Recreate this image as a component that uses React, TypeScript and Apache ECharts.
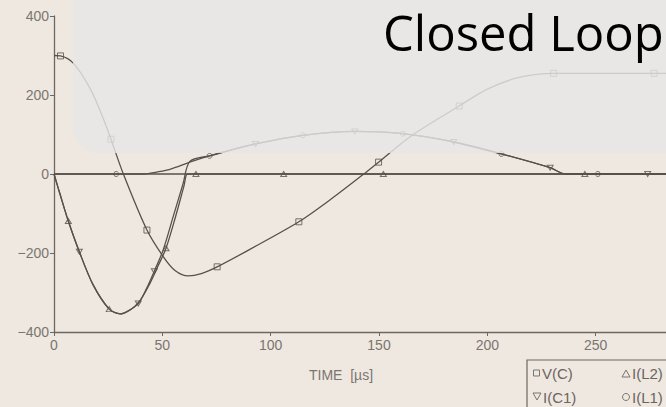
import React, { useEffect, useRef } from "react";
import * as echarts from "echarts";

// ---- data ----
const xTickLabels = ["0", "50", "100", "150", "200", "250"];
const yTickLabels = ["−400", "−200", "0", "200", "400"];

const vcT = [0, 3, 9, 17, 23, 26.3, 32, 42.9, 50.4, 56, 62, 68, 75.3, 90, 113, 128.5, 143, 149.8, 165, 187, 200, 215, 230.6, 250, 277, 300];
const vcV = [300, 299, 280, 213, 137, 88, 0, -142, -209, -245, -258, -252, -235, -192, -121, -61, 0, 30, 97, 172, 215, 245, 255, 255, 255, 255];
const vcMarkT = [3, 26.3, 42.9, 75.3, 113, 149.8, 187, 230.6, 277];
const vcMarkV = [299, 88, -142, -235, -121, 30, 172, 255, 255];

const ic1T = [0, 3, 6.6, 11.7, 18, 25.5, 30.6, 34, 38.9, 42.8, 46.3, 50.4, 55, 59.6, 62.7, 71.8, 93, 114.8, 138.8, 161, 184.5, 206.5, 229, 236, 250, 300];
const ic1V = [0, -55, -119, -197, -280, -342, -354, -347, -328, -289, -246, -192, -108, -24, 32, 46, 76, 98, 108, 102, 81, 51, 16, 0, 0, 0];
const ic1MarkT = [11.7, 38.9, 46.3, 93, 138.8, 184.5, 229, 274];
const ic1MarkV = [-197, -328, -246, 76, 108, 81, 16, 0];

const il2T = [0, 3, 6.6, 11.7, 18, 25.5, 30.6, 35, 39.5, 44, 48, 51.7, 56, 60, 61.5, 64, 100, 300];
const il2V = [0, -55, -119, -197, -280, -342, -354, -345, -322, -280, -233, -188, -110, -30, 0, 0, 0, 0];
const il2MarkT = [6.6, 25.5, 51.7, 65.5, 106, 152, 245];
const il2MarkV = [-119, -342, -188, 0, 0, 0, 0];

const il1T = [0, 41.7, 47.4, 53.5, 62.7, 71.8, 93, 114.8, 138.8, 161, 184.5, 206.5, 229, 236, 250, 300];
const il1V = [0, 0, 5, 12, 30, 46, 76, 98, 108, 102, 81, 51, 16, 0, 0, 0];
const il1MarkT = [28.7, 71.8, 114.8, 161, 206.5, 251];
const il1MarkV = [0, 46, 98, 102, 51, 0];

const legendNames = ["V(C)", "I(L2)", "I(C1)", "I(L1)"];
const titleText = "Closed Loop";
const axisName = "TIME  [µs]";

const zip = (a: number[], b: number[]) => a.map((t, i) => [t, b[i]]);

const lineCol = "#57514b";
const axisCol = "#6e6760";
const labelCol = "#7b7570";
const narrow = '"Liberation Sans Narrow", "Liberation Sans", Arial, sans-serif';
const sans = '"Liberation Sans", Arial, sans-serif';

const downTri = "path://M0,0L10,0L5,9Z";

export default function App() {
  const ref = useRef<HTMLDivElement>(null);
  useEffect(() => {
    if (!ref.current) return;
    const chart = echarts.init(ref.current, undefined, { renderer: "svg" });

    const lineSeries = (name: string, t: number[], v: number[], extra: any = {}) => ({
      type: "line",
      name,
      data: zip(t, v),
      showSymbol: false,
      smooth: 0.3,
      lineStyle: { color: lineCol, width: 1.3 },
      z: 2,
      silent: true,
      ...extra,
    });
    const markSeries = (name: string, t: number[], v: number[], symbol: string, size: any) => ({
      type: "scatter",
      name: name + "_m",
      data: zip(t, v),
      symbol,
      symbolSize: size,
      itemStyle: { color: "rgba(0,0,0,0)", borderColor: lineCol, borderWidth: 1 },
      z: 3,
      silent: true,
    });

    chart.setOption({
      animation: false,
      backgroundColor: "#eee8e1",
      grid: { left: 54, top: 16, width: 650, height: 316, outerBoundsMode: "none", containLabel: false },
      xAxis: {
        type: "value",
        min: 0,
        max: 300,
        interval: 50,
        axisLine: { show: true, onZero: false, lineStyle: { color: axisCol, width: 1.3 } },
        axisTick: { show: true, length: 4, lineStyle: { color: axisCol } },
        splitLine: { show: false },
        axisLabel: {
          color: labelCol,
          fontFamily: narrow,
          fontSize: 14,
          margin: 6,
          showMaxLabel: false,
          formatter: (v: number) => xTickLabels[Math.round(v / 50)] ?? "",
        },
      },
      yAxis: {
        type: "value",
        min: -400,
        max: 400,
        interval: 200,
        axisLine: { show: true, lineStyle: { color: axisCol, width: 1.3 } },
        axisTick: { show: true, length: 4, lineStyle: { color: axisCol } },
        splitLine: { show: false },
        axisLabel: {
          color: labelCol,
          fontFamily: narrow,
          fontSize: 14,
          margin: 5,
          formatter: (v: number) => yTickLabels[Math.round((v + 400) / 200)] ?? String(v),
        },
      },
      series: [
        lineSeries(legendNames[3], il1T, il1V, {
          markLine: {
            silent: true,
            symbol: "none",
            label: { show: false },
            lineStyle: { color: lineCol, width: 1.6, type: "solid" },
            data: [{ yAxis: 0 }],
          },
        }),
        lineSeries(legendNames[0], vcT, vcV),
        lineSeries(legendNames[1], il2T, il2V),
        lineSeries(legendNames[2], ic1T, ic1V),
        markSeries(legendNames[0], vcMarkT, vcMarkV, "rect", 6),
        markSeries(legendNames[1], il2MarkT, il2MarkV, "triangle", [6, 5]),
        markSeries(legendNames[2], ic1MarkT, ic1MarkV, downTri, [6, 5]),
        markSeries(legendNames[3], il1MarkT, il1MarkV, "circle", 5),
      ],
      graphic: [
        {
          type: "rect",
          z: 100,
          silent: true,
          shape: { x: 73, y: -40, width: 700, height: 193, r: 26 },
          style: { fill: "rgba(231,230,229,0.82)" },
        },
        {
          type: "text",
          z: 101,
          silent: true,
          x: 383,
          y: 32,
          style: {
            text: titleText,
            fill: "#000000",
            font: '49px "Open Sans", "Noto Sans", sans-serif',
            verticalAlign: "middle",
            align: "left",
          },
        },
        {
          type: "text",
          z: 50,
          silent: true,
          x: 341,
          y: 375,
          style: {
            text: axisName,
            fill: labelCol,
            font: "14px " + sans,
            align: "center",
            verticalAlign: "middle",
          },
        },
        {
          type: "rect",
          z: 50,
          silent: true,
          shape: { x: 527, y: 360, width: 200, height: 80 },
          style: { fill: "none", stroke: axisCol, lineWidth: 1.2 },
        },
        // legend symbols
        {
          type: "rect",
          z: 51,
          silent: true,
          shape: { x: 533.5, y: 370, width: 6, height: 6 },
          style: { fill: "none", stroke: labelCol, lineWidth: 1 },
        },
        {
          type: "polygon",
          z: 51,
          silent: true,
          shape: { points: [[622, 377], [630, 377], [626, 370]] },
          style: { fill: "none", stroke: labelCol, lineWidth: 1 },
        },
        {
          type: "polygon",
          z: 51,
          silent: true,
          shape: { points: [[533, 393], [541, 393], [537, 400]] },
          style: { fill: "none", stroke: labelCol, lineWidth: 1 },
        },
        {
          type: "circle",
          z: 51,
          silent: true,
          shape: { cx: 626, cy: 397, r: 3.5 },
          style: { fill: "none", stroke: labelCol, lineWidth: 1 },
        },
        // legend texts
        ...[
          [legendNames[0], 542, 373],
          [legendNames[1], 632, 373],
          [legendNames[2], 543, 397],
          [legendNames[3], 632, 397],
        ].map(([t, x, y]) => ({
          type: "text",
          z: 51,
          silent: true,
          x,
          y,
          style: {
            text: t,
            fill: "#6b655f",
            font: "15px " + sans,
            align: "left",
            verticalAlign: "middle",
          },
        })),
      ],
    });
    return () => chart.dispose();
  }, []);
  return (
    <div
      ref={ref}
      style={{ position: "fixed", left: 0, top: 0, width: 666, height: 407 }}
    />
  );
}
